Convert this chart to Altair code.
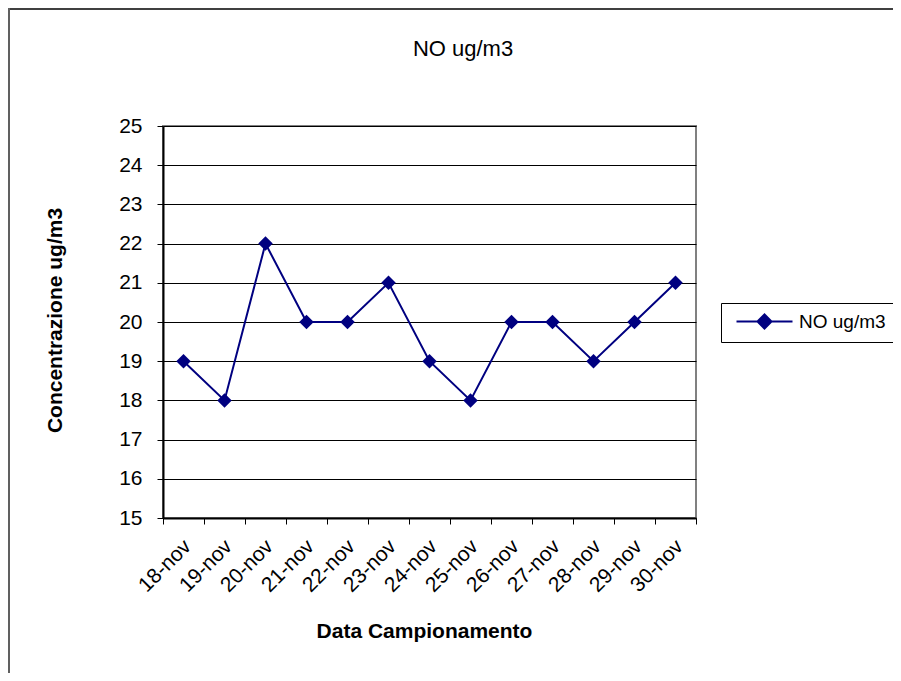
import altair as alt
import pandas as pd

dates = ["18-nov", "19-nov", "20-nov", "21-nov", "22-nov", "23-nov", "24-nov",
         "25-nov", "26-nov", "27-nov", "28-nov", "29-nov", "30-nov"]
values = [19, 18, 22, 20, 20, 21, 19, 18, 20, 20, 19, 20, 21]
series_name = "NO ug/m3"
chart_title = "NO ug/m3"
x_title = "Data Campionamento"
y_title = "Concentrazione ug/m3"
y_ticks = list(range(15, 26))

FONT = "Liberation Sans, Arial, sans-serif"
NAVY = "#000080"

df = pd.DataFrame({"date": dates, "value": values, "series": [series_name] * len(dates)})

x_enc = alt.X(
    "date:N", sort=dates, bandPosition=0.5,
    scale=alt.Scale(type="band", paddingInner=0, paddingOuter=0),
    axis=alt.Axis(
        title=x_title, labelAngle=-45, labelAlign="right", labelBaseline="middle",
        tickBand="extent", tickSize=6, tickColor="black", tickWidth=1,
        labelPadding=19, labelOffset=4, labelFontSize=21, labelFont=FONT, labelColor="black",
        domainColor="black", domainWidth=2, grid=False,
        titleFont=FONT, titleFontSize=21, titleFontWeight="bold", titleColor="black",
        titleX=261, titleY=119, titleAlign="center", titleBaseline="alphabetic",
    ),
)
y_enc = alt.Y(
    "value:Q",
    scale=alt.Scale(domain=[15, 25], nice=False, zero=False),
    axis=alt.Axis(
        values=y_ticks, format="d", tickSize=6, tickColor="black", tickWidth=1,
        labelPadding=15, labelFontSize=21, labelFont=FONT, labelColor="black",
        domainColor="black", domainWidth=2,
        grid=True, gridColor="black", gridWidth=1, gridOpacity=1,
        title=y_title, titleFont=FONT, titleFontSize=21, titleFontWeight="bold",
        titleColor="black", titleAngle=-90, titleX=-102, titleY=194,
        titleAlign="center", titleBaseline="alphabetic",
    ),
)

base = alt.Chart(df)

line = base.mark_line(strokeWidth=2, color=NAVY).encode(x=x_enc, y=y_enc)

legend_symbol = "M-4,0L4,0M-1,0L0,-1L1,0L0,1Z"
points = base.mark_point(shape="diamond", filled=True, size=210, opacity=1).encode(
    x=x_enc, y=y_enc,
    color=alt.Color(
        "series:N",
        scale=alt.Scale(domain=[series_name], range=[NAVY]),
        legend=alt.Legend(
            title=None, orient="none", legendX=558, legendY=177,
            symbolType=legend_symbol, symbolSize=196, symbolStrokeWidth=2,
            symbolFillColor=NAVY, symbolStrokeColor=NAVY,
            symbolOffset=25, labelOffset=25, padding=9,
            strokeColor="black", fillColor="white",
            labelFontSize=19, labelFont=FONT, labelColor="black",
        ),
    ),
)

one = pd.DataFrame({"t": [chart_title]})
title_mark = alt.Chart(one).mark_text(
    font=FONT, fontSize=22, color="black", align="center", baseline="alphabetic"
).encode(x=alt.value(300), y=alt.value(-70), text="t:N")

border_top = alt.Chart(one).mark_rule(color="#404040", strokeWidth=2).encode(
    x=alt.value(-155), x2=alt.value(730), y=alt.value(-117)
)
border_left = alt.Chart(one).mark_rule(color="#606060", strokeWidth=2).encode(
    x=alt.value(-154), y=alt.value(-118), y2=alt.value(547)
)

chart = alt.layer(line, points, title_mark, border_top, border_left).properties(
    width=533, height=392,
    padding={"left": 155, "top": 118, "right": 197, "bottom": 155},
    autosize=alt.AutoSizeParams(type="none"),
    background="white",
).configure_view(stroke="#808080", strokeWidth=2)

chart.save("out.html", embed_options={"renderer": "svg", "actions": False})
